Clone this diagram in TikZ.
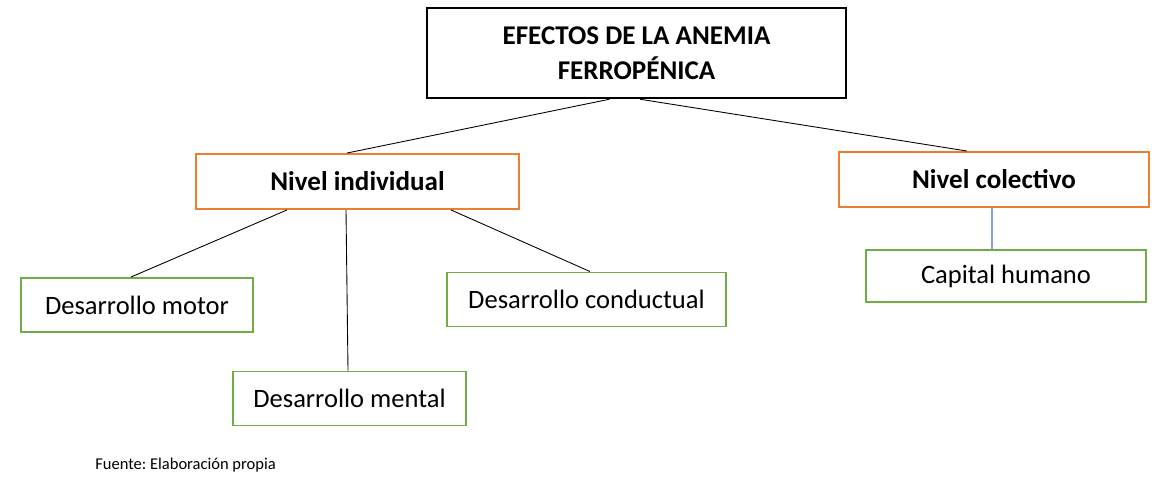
\documentclass[tikz,border=0pt]{standalone}
\usepackage{fontspec}
\setmainfont{Carlito}
\usepackage{tikz}
\usetikzlibrary{positioning}
\usepackage{xcolor}
\definecolor{levelbox}{HTML}{ED7D31}
\definecolor{effectbox}{HTML}{70AD47}
\definecolor{bluelink}{HTML}{4472C4}

\begin{document}
\frenchspacing
\begin{tikzpicture}[
    titlebox/.style={draw=black,line width=1.4pt,minimum width=8.38cm,minimum height=1.8cm,align=center,font=\fontsize{15.4}{19.9}\selectfont\bfseries},
    levelnode/.style={draw=levelbox,line width=1.1pt,minimum height=1.1cm,font=\fontsize{15.4}{18}\selectfont\bfseries},
    effectnode/.style={draw=effectbox,line width=1.1pt,minimum height=1.08cm,font=\fontsize{15.1}{18}\selectfont},
    link/.style={draw=black,line width=0.5pt}
  ]
  \useasboundingbox (0,0) rectangle (23.24,9.72);

  % Main box
  \node[titlebox] (efectos) at (12.73,8.66) {EFECTOS DE LA ANEMIA\\FERROPÉNICA};

  % Levels
  \node[levelnode,minimum width=6.46cm] (individual) at (7.15,6.09) {Nivel individual};
  \node[levelnode,minimum width=6.2cm] (colectivo) at (19.88,6.13) {Nivel colectivo};

  % Effects
  \node[effectnode,minimum width=4.64cm] (motor) at (2.74,3.62) {Desarrollo motor};
  \node[effectnode,minimum width=4.66cm] (mental) at (6.99,1.75) {Desarrollo mental};
  \node[effectnode,minimum width=5.58cm] (conductual) at (11.73,3.73) {Desarrollo conductual};
  \node[effectnode,minimum width=5.6cm,minimum height=1.04cm] (capital) at (20.12,4.2) {Capital humano};

  % Connectors
  \draw[link] ([xshift=-0.54cm]efectos.south) -- ([xshift=-0.21cm]individual.north);
  \draw[link] ([xshift=0.07cm]efectos.south) -- ([xshift=-0.54cm]colectivo.north);
  \draw[link] ([xshift=-1.41cm]individual.south) -- ([xshift=-0.12cm]motor.north);
  \draw[link] ([xshift=-0.23cm]individual.south) -- ([xshift=-0.03cm]mental.north);
  \draw[link] ([xshift=1.87cm]individual.south) -- ([xshift=0.07cm]conductual.north);
  \draw[link,bluelink,line width=0.6pt] ([xshift=-0.04cm]colectivo.south) -- ([xshift=-0.28cm]capital.north);

  % Source
  \node[anchor=west,inner sep=0pt,font=\fontsize{9.4}{11}\selectfont] (fuente) at (1.9,0.42) {Fuente: Elaboración propia};
\end{tikzpicture}
\end{document}
